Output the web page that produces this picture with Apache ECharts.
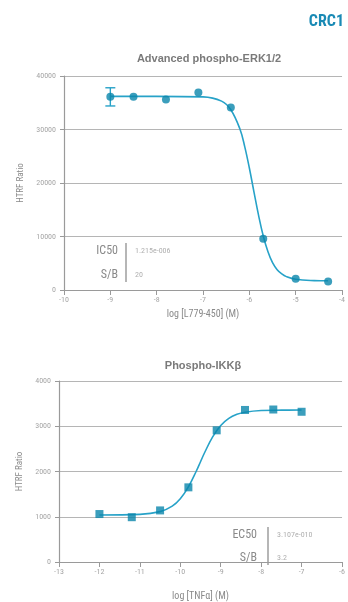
<!DOCTYPE html>
<html><head><meta charset="utf-8">
<script src="https://cdn.jsdelivr.net/npm/echarts@6/dist/echarts.min.js"></script>
<style>html,body{margin:0;padding:0;background:#fff}#c{width:348px;height:602px}</style>
</head><body><div id="c"></div>
<script>
// Chart 1: Advanced phospho-ERK1/2 (inhibition)
const erkLogConc = [-9, -8.5, -7.8, -7.1, -6.4, -5.7, -5.0, -4.3];
const erkRatio   = [36100, 36100, 35600, 36900, 34100, 9600, 2100, 1600];
const erkErrLow  = [34400];
const erkErrHigh = [37800];
const erkErrX    = [-9];
const erkCurveX  = [-9, -8, -7, -6.6, -6.4, -6.2, -6.1, -6.0, -5.9, -5.8, -5.7, -5.6, -5.5, -5.4, -5.3, -5.2, -5.0, -4.6, -4.3];
const erkCurveY  = [36200, 36200, 36100, 35300, 33700, 30000, 26800, 22800, 18300, 13900, 10100, 7200, 5100, 3800, 3000, 2500, 2000, 1760, 1720];

// Chart 2: Phospho-IKKβ (stimulation)
const ikkLogConc = [-12, -11.2, -10.5, -9.8, -9.1, -8.4, -7.7, -7.0];
const ikkRatio   = [1060, 990, 1140, 1650, 2910, 3360, 3370, 3320];
const ikkCurveX  = [-12, -11, -10.5, -10.2, -10, -9.8, -9.6, -9.5, -9.4, -9.2, -9.0, -8.8, -8.6, -8.4, -8.0, -7.5, -7.0];
const ikkCurveY  = [1040, 1053, 1113, 1235, 1398, 1660, 2017, 2216, 2414, 2765, 3018, 3175, 3263, 3310, 3347, 3356, 3358];

const annot1 = [["IC50", "1.215e-006"], ["S/B", "20"]];
const annot2 = [["EC50", "3.107e-010"], ["S/B", "3.2"]];

const LINE = '#27a2c8', MARK = '#0a86ab', AX = '#9a9a9a', GRID = '#b5b5b5', TXT = '#8a8a8a';
const FONT = "'Liberation Sans Narrow', 'Roboto Condensed', 'Liberation Sans', sans-serif";

function xAxis(idx, min, max, name, gap) {
  return {type: 'value', gridIndex: idx, min: min, max: max, interval: 1,
    name: name, nameLocation: 'middle', nameGap: gap,
    nameTextStyle: {color: TXT, fontSize: 10, fontFamily: FONT},
    axisLine: {show: true, onZero: false, lineStyle: {color: AX, width: 1.2}},
    axisTick: {show: true, inside: false, length: 5, lineStyle: {color: AX}},
    axisLabel: {color: '#a6a6a6', fontSize: 8, fontFamily: FONT, margin: 6, showMaxLabel: true, showMinLabel: true,
      formatter: v => String(v)},
    splitLine: {show: false}};
}
function yAxis(idx, max, interval, gap) {
  return {type: 'value', gridIndex: idx, min: 0, max: max, interval: interval,
    name: 'HTRF Ratio', nameLocation: 'middle', nameGap: gap, nameRotate: 90,
    nameTextStyle: {color: TXT, fontSize: 9, fontFamily: FONT},
    axisLine: {show: true, lineStyle: {color: AX, width: 1.2}},
    axisTick: {show: true, inside: false, length: 4, lineStyle: {color: AX}},
    axisLabel: {color: '#a6a6a6', fontSize: 8, fontFamily: FONT, margin: 8, formatter: v => String(v)},
    splitLine: {show: true, lineStyle: {color: GRID, width: 1}}};
}
function pairs(xs, ys) { return xs.map((x, i) => [x, ys[i]]); }

function annotGraphics(rows, labelRight, divX, valX, y0, dy) {
  const g = [];
  rows.forEach((r, i) => {
    g.push({type: 'text', style: {text: r[0], x: labelRight, y: y0 + i * dy, textAlign: 'right', textVerticalAlign: 'middle',
      fill: '#8a8a8a', font: "12px " + FONT}});
    g.push({type: 'text', style: {text: r[1], x: valX, y: y0 + i * dy, textAlign: 'left', textVerticalAlign: 'middle',
      fill: '#b0b0b0', font: "8px " + FONT}});
  });
  g.push({type: 'line', shape: {x1: divX, y1: y0 - 8, x2: divX, y2: y0 + dy + 7}, style: {stroke: '#8f8f8f', lineWidth: 1.3}});
  return g;
}

const chart = echarts.init(document.getElementById('c'));
chart.setOption({
  animation: false,
  backgroundColor: '#fff',
  grid: [
    {left: 64, top: 76, width: 282, height: 214},
    {left: 59, top: 381, width: 286, height: 189}
  ],
  xAxis: [xAxis(0, -10, -4, 'log [L779-450] (M)', 19), xAxis(1, -13, -6, 'log [TNFα] (M)', 29)],
  yAxis: [yAxis(0, 40000, 10000, 32), yAxis(1, 4000, 1000, 33)],
  graphic: [
    {type: 'text', style: {text: 'CRC1', x: 344, y: 22, textAlign: 'right', textVerticalAlign: 'middle',
      fill: '#1a8ab5', font: "bold 16px " + FONT}},
    {type: 'text', style: {text: 'Advanced phospho-ERK1/2', x: 209, y: 59, textAlign: 'center', textVerticalAlign: 'middle',
      fill: '#7a7a7a', font: "bold 11px 'Liberation Sans', Arial, sans-serif"}},
    {type: 'text', style: {text: 'Phospho-IKKβ', x: 203, y: 366, textAlign: 'center', textVerticalAlign: 'middle',
      fill: '#7a7a7a', font: "bold 11px 'Liberation Sans', Arial, sans-serif"}}
  ].concat(annotGraphics(annot1, 118, 126, 135, 251, 24))
   .concat(annotGraphics(annot2, 257, 268, 277, 535, 23)),
  series: [
    {type: 'line', xAxisIndex: 0, yAxisIndex: 0, data: pairs(erkCurveX, erkCurveY), smooth: 0.4, showSymbol: false,
      lineStyle: {color: LINE, width: 1.6}, z: 2},
    {type: 'custom', xAxisIndex: 0, yAxisIndex: 0, z: 3,
      data: erkErrX.map((x, i) => [x, erkErrLow[i], erkErrHigh[i]]),
      renderItem: function (params, api) {
        const lo = api.coord([api.value(0), api.value(1)]);
        const hi = api.coord([api.value(0), api.value(2)]);
        const w = 5;
        const st = {stroke: LINE, lineWidth: 1.4};
        return {type: 'group', children: [
          {type: 'line', shape: {x1: lo[0], y1: lo[1], x2: hi[0], y2: hi[1]}, style: st},
          {type: 'line', shape: {x1: lo[0] - w, y1: lo[1], x2: lo[0] + w, y2: lo[1]}, style: st},
          {type: 'line', shape: {x1: hi[0] - w, y1: hi[1], x2: hi[0] + w, y2: hi[1]}, style: st}
        ]};
      }},
    {type: 'scatter', xAxisIndex: 0, yAxisIndex: 0, data: pairs(erkLogConc, erkRatio), symbol: 'circle', symbolSize: 8,
      itemStyle: {color: MARK}, z: 4},
    {type: 'line', xAxisIndex: 1, yAxisIndex: 1, data: pairs(ikkCurveX, ikkCurveY), smooth: 0.4, showSymbol: false,
      lineStyle: {color: LINE, width: 1.6}, z: 2},
    {type: 'scatter', xAxisIndex: 1, yAxisIndex: 1, data: pairs(ikkLogConc, ikkRatio), symbol: 'rect', symbolSize: 8,
      itemStyle: {color: MARK}, z: 4}
  ]
});
</script></body></html>
